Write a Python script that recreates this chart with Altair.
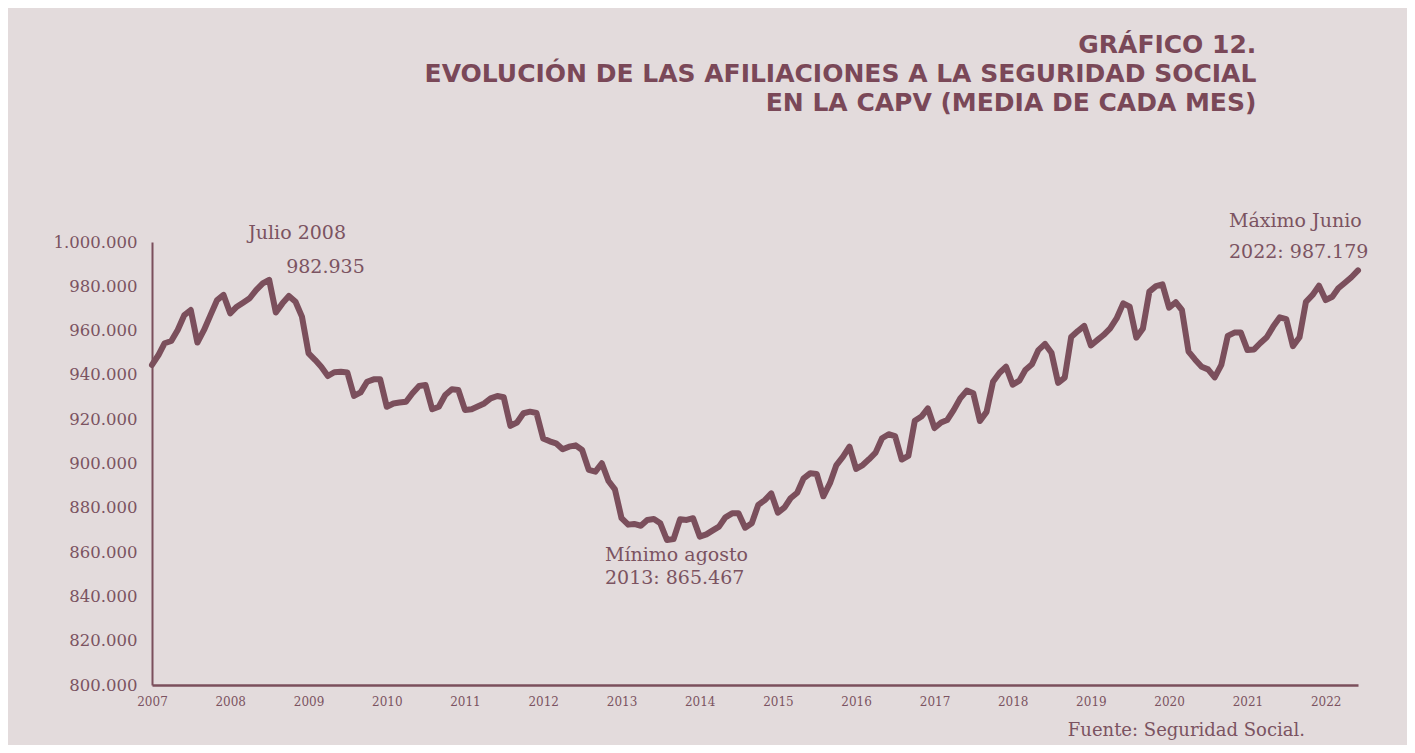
import altair as alt
import pandas as pd

# ---------------- data ----------------
months = pd.date_range("2007-01-01", "2022-06-01", freq="MS").strftime("%Y-%m-%dT00:00:00").tolist()

afiliaciones = [
    944500, 949100, 954300, 955300, 960300, 967000, 969300, 954600, 960300, 967000, 973800, 976100,  # 2007
    967800, 970800, 972600, 974600, 978300, 981300, 982935, 968200, 972300, 975600, 973000, 966300,  # 2008
    949700, 946700, 943700, 939500, 941200, 941400, 941100, 930500, 932100, 936900, 938000, 938000,  # 2009
    925600, 927100, 927500, 927900, 931700, 935000, 935400, 924500, 925600, 930900, 933500, 933200,  # 2010
    924200, 924500, 925700, 927100, 929400, 930500, 929900, 917000, 918500, 922700, 923400, 922800,  # 2011
    911300, 910000, 909100, 906400, 907600, 908200, 906100, 897100, 896300, 900100, 892100, 888300,  # 2012
    875300, 872400, 872700, 871900, 874500, 874900, 873000, 865467, 865900, 874800, 874500, 875300,  # 2013
    867000, 868000, 869700, 871500, 875700, 877500, 877500, 871000, 873000, 881300, 883500, 886500,  # 2014
    877800, 880200, 884300, 886800, 893300, 895600, 895300, 885200, 891100, 899300, 903100, 907600,  # 2015
    897600, 899300, 901900, 904900, 911400, 913200, 912400, 901800, 903400, 919300, 921200, 924900,  # 2016
    916000, 918500, 919600, 924200, 929400, 932900, 931700, 919200, 923300, 936900, 941000, 943700,  # 2017
    935600, 937400, 942200, 944800, 951200, 954000, 950000, 936400, 938800, 957100, 959800, 962100,  # 2018
    953300, 955800, 958000, 961000, 965500, 972300, 970800, 956800, 961000, 977600, 980100, 980900,  # 2019
    970400, 972800, 969300, 950500, 947000, 943700, 942500, 938900, 944500, 957600, 959100, 959100,  # 2020
    951200, 951500, 954300, 957000, 961800, 966000, 965200, 953000, 957000, 973000, 976100, 980300,  # 2021
    973800, 975300, 979100, 981600, 984100, 987179,                                                  # 2022
]

y_ticks = [800000, 820000, 840000, 860000, 880000, 900000, 920000, 940000, 960000, 980000, 1000000]

title_lines = [
    "GRÁFICO 12.",
    "EVOLUCIÓN DE LAS AFILIACIONES A LA SEGURIDAD SOCIAL",
    "EN LA CAPV (MEDIA DE CADA MES)",
]

ann_max2008 = pd.DataFrame({"mes": ["2008-07-01T00:00:00"], "afiliados": [982935]})
ann_min2013 = pd.DataFrame({"mes": ["2013-08-01T00:00:00"], "afiliados": [865467]})
ann_max2022 = pd.DataFrame({"mes": ["2022-06-01T00:00:00"], "afiliados": [987179]})

df = pd.DataFrame({"mes": months, "afiliados": afiliaciones})

# ---------------- style ----------------
LINE = "#7b4f5c"
TITLE = "#7a4858"
TEXT = "#7b5361"
BG = "#e3dbdc"
SERIF = "DejaVu Serif"

W, H = 1206, 443

x_enc = alt.X(
    "mes:T",
    scale=alt.Scale(domain=[alt.DateTime(year=2007, month=1, date=1),
                            alt.DateTime(year=2022, month=6, date=1)]),
    axis=alt.Axis(
        format="%Y",
        tickCount=alt.TimeIntervalStep(interval="year", step=1),
        title=None,
        grid=False,
        ticks=False,
        domainColor=LINE,
        domainWidth=2.5,
        labelFont=SERIF,
        labelFontSize=12,
        labelColor=TEXT,
        labelPadding=11,
        labelFlush=False,
    ),
)

y_enc = alt.Y(
    "afiliados:Q",
    scale=alt.Scale(domain=[800000, 1000000], nice=False, zero=False),
    axis=alt.Axis(
        values=y_ticks,
        labelExpr="replace(replace(format(datum.value, ',.0f'), ',', '.'), ',', '.')",
        title=None,
        grid=False,
        ticks=False,
        domainColor=LINE,
        domainWidth=2,
        labelFont=SERIF,
        labelFontSize=16.5,
        labelColor=TEXT,
        labelPadding=15,
    ),
)

line = alt.Chart(df).mark_line(
    color=LINE, strokeWidth=6, strokeCap="round", strokeJoin="round"
).encode(x=x_enc, y=y_enc)

txt = dict(font=SERIF, fontSize=19, color=TEXT, align="left", baseline="middle")

a1 = alt.Chart(ann_max2008).mark_text(text="Julio 2008", dx=-21, dy=-47, **txt).encode(x="mes:T", y="afiliados:Q")
a2 = alt.Chart(ann_max2008).mark_text(text="982.935", dx=17, dy=-13, **txt).encode(x="mes:T", y="afiliados:Q")
b1 = alt.Chart(ann_min2013).mark_text(text="Mínimo agosto", dx=-62, dy=15, **txt).encode(x="mes:T", y="afiliados:Q")
b2 = alt.Chart(ann_min2013).mark_text(text="2013: 865.467", dx=-62, dy=38, **txt).encode(x="mes:T", y="afiliados:Q")
c1 = alt.Chart(ann_max2022).mark_text(text="Máximo Junio", dx=-129, dy=-49, **txt).encode(x="mes:T", y="afiliados:Q")
c2 = alt.Chart(ann_max2022).mark_text(text="2022: 987.179", dx=-129, dy=-18, **txt).encode(x="mes:T", y="afiliados:Q")

fuente = alt.Chart(ann_max2022).mark_text(
    text="Fuente: Seguridad Social.", font=SERIF, fontSize=18,
    color=TEXT, align="right", baseline="middle"
).encode(x=alt.value(1153), y=alt.value(489))

chart = alt.layer(line, a1, a2, b1, b2, c1, c2, fuente).properties(
    width=W,
    height=H,
    background=BG,
    autosize=alt.AutoSizeParams(type="none"),
    padding={"left": 144, "top": 234, "right": 49, "bottom": 60},
    title=alt.Title(
        text=title_lines,
        anchor="end",
        dx=-112,
        offset=96,
        font="DejaVu Sans",
        fontSize=25,
        fontWeight="bold",
        color=TITLE,
        lineHeight=29,
    ),
).configure_view(stroke=None)

chart.save("out.html", embed_options={"renderer": "svg", "actions": False})
